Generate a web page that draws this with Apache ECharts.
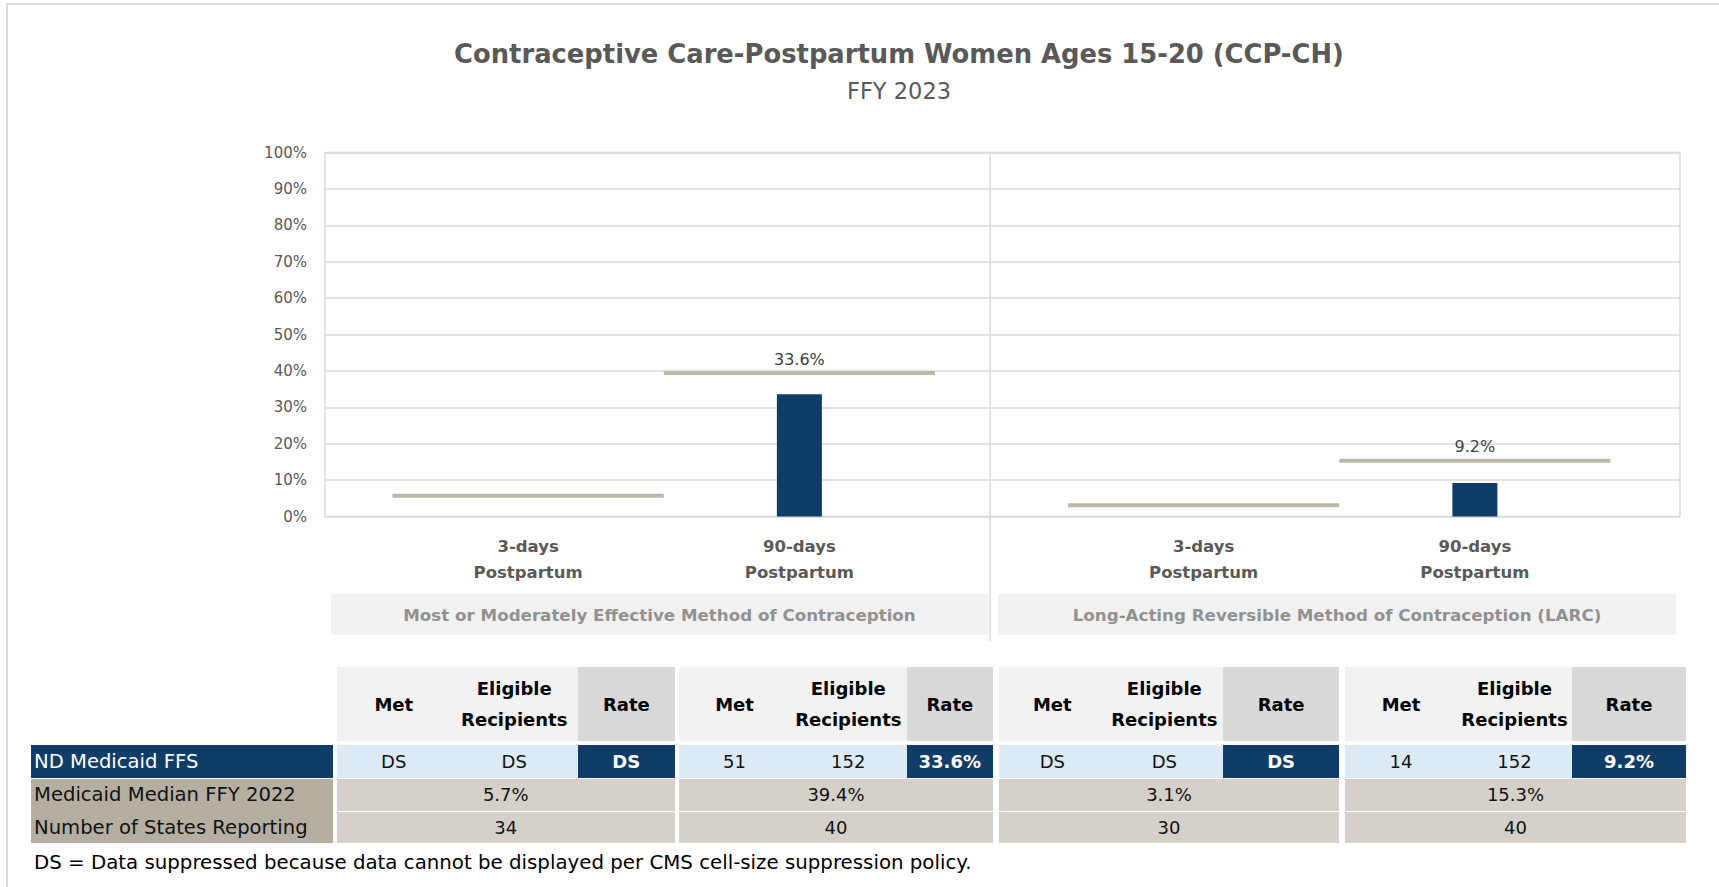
<!DOCTYPE html>
<html>
<head>
<meta charset="utf-8">
<title>CCP-CH</title>
<script src="https://cdn.jsdelivr.net/npm/echarts@6/dist/echarts.min.js"></script>
<style>
  html, body { margin: 0; padding: 0; background: #fff; }
  body { font-family: "DejaVu Sans", "Open Sans", sans-serif; }
  #wrap { position: relative; width: 1719px; height: 887px; overflow: hidden; }
  #frame { position: absolute; left: 6px; top: 3px; width: 1730px; height: 900px;
    border-top: 2px solid #dddcd8; border-left: 2px solid #dddcd8; }
  #chart { position: absolute; left: 0; top: 0; width: 1719px; height: 887px; }
  .grp { position: absolute; top: 594px; height: 41px; background: #f2f2f2; color: #919191;
    font-size: 16.7px; font-weight: 700; display: flex; align-items: center; justify-content: center; }
  .cell { position: absolute; box-sizing: border-box; display: flex; align-items: center;
    justify-content: center; font-size: 18px; color: #111; text-align: center; }
  .hdr { background: #f2f2f2; font-weight: 700; font-size: 18px; line-height: 31px; color: #000; }
  .hdr.rate { background: #d9d9d9; }
  .nd { background: #ddebf7; }
  .nd.rate { background: #0f3d67; color: #fff; font-weight: 700; }
  .tan { background: #d5d0c9; }
  .lbl { justify-content: flex-start; padding-left: 3px; font-size: 19.6px; white-space: nowrap; }
  .lbl.navy { background: #0f3d67; color: #fff; }
  .lbl.dark { background: #b5afa2; }
  #note { position: absolute; left: 34px; top: 851px; font-size: 19.8px; color: #000; white-space: nowrap; }
</style>
</head>
<body>
<div id="wrap">
  <div id="frame"></div>
  <div id="chart"></div>
  <div id="boxes"></div>
  <div id="table"></div>
  <div id="note">DS = Data suppressed because data cannot be displayed per CMS cell-size suppression policy.</div>
</div>
<script>
// chart data
const titleText = "Contraceptive Care-Postpartum Women Ages 15-20 (CCP-CH)";
const subtitleText = "FFY 2023";
const categories = ["3-days\nPostpartum", "90-days\nPostpartum"];
const groupNames = [
  "Most or Moderately Effective Method of Contraception",
  "Long-Acting Reversible Method of Contraception (LARC)"
];
// one entry per column: [group1 3-days, group1 90-days, group2 3-days, group2 90-days]
const ndRates = [null, 33.6, null, 9.2];
const medians = [5.7, 39.4, 3.1, 15.3];
const metValues = ["DS", "51", "DS", "14"];
const eligibleValues = ["DS", "152", "DS", "152"];
const rateLabels = ["DS", "33.6%", "DS", "9.2%"];
const medianLabels = ["5.7%", "39.4%", "3.1%", "15.3%"];
const statesReporting = ["34", "40", "30", "40"];
const headerLabels = ["Met", "Eligible\nRecipients", "Rate"];
const rowLabels = ["ND Medicaid FFS", "Medicaid Median FFY 2022", "Number of States Reporting"];

const BAR_COLOR = "#0f3d67";
const MEDIAN_COLOR = "#bdb7a7";
const TEXT_GRAY = "#595959";
const FONT = '"DejaVu Sans", "Open Sans", sans-serif';

const chart = echarts.init(document.getElementById("chart"), null, { renderer: "svg" });

function medianRenderer(rates) {
  return function (params, api) {
    const idx = api.value(0);
    const p = api.coord([idx, api.value(1)]);
    const band = api.size([1, 0])[0];
    const children = [{
      type: "rect",
      shape: { x: p[0] - band / 2, y: p[1] - 2, width: band, height: 4 },
      style: { fill: MEDIAN_COLOR }
    }];
    const r = rates[idx];
    if (r != null) {
      children.push({
        type: "text",
        style: {
          text: r.toFixed(1) + "%", x: p[0], y: p[1] - 14,
          align: "center", verticalAlign: "middle",
          fill: "#404040", font: "16px " + FONT
        }
      });
    }
    return { type: "group", children: children };
  };
}

const panelGrids = [
  { left: 392.5, width: 542.5, top: 152.5, height: 364 },
  { left: 1068, width: 542.5, top: 152.5, height: 364 }
];

const option = {
  animation: false,
  textStyle: { fontFamily: FONT },
  graphic: [
    { type: "text", style: { text: titleText, x: 899, y: 54, align: "center", verticalAlign: "middle",
        fill: TEXT_GRAY, font: "bold 25.8px " + FONT } },
    { type: "text", style: { text: subtitleText, x: 899, y: 91, align: "center", verticalAlign: "middle",
        fill: TEXT_GRAY, font: "22.5px " + FONT } },
    { type: "line", shape: { x1: 990, y1: 152.5, x2: 990, y2: 641 },
      style: { stroke: "#d9d9d9", lineWidth: 1.5 } }
  ],
  grid: [
    { left: 325, width: 1355, top: 152.5, height: 364, show: true, borderColor: "#d9d9d9", borderWidth: 1.5 },
    panelGrids[0],
    panelGrids[1]
  ],
  xAxis: [
    { gridIndex: 0, type: "value", show: false, min: 0, max: 1 },
    { gridIndex: 1, type: "category", data: categories,
      axisLine: { show: false }, axisTick: { show: false },
      axisLabel: { margin: 17, color: TEXT_GRAY, fontSize: 16.5, fontWeight: "bold", lineHeight: 26 } },
    { gridIndex: 2, type: "category", data: categories,
      axisLine: { show: false }, axisTick: { show: false },
      axisLabel: { margin: 17, color: TEXT_GRAY, fontSize: 16.5, fontWeight: "bold", lineHeight: 26 } }
  ],
  yAxis: [
    { gridIndex: 0, type: "value", min: 0, max: 100, interval: 10,
      axisLine: { show: false }, axisTick: { show: false },
      splitLine: { lineStyle: { color: "#d9d9d9", width: 1.5 } },
      axisLabel: { formatter: "{value}%", color: TEXT_GRAY, fontSize: 15, margin: 18 } },
    { gridIndex: 1, type: "value", min: 0, max: 100, show: false },
    { gridIndex: 2, type: "value", min: 0, max: 100, show: false }
  ],
  series: [
    { type: "bar", xAxisIndex: 1, yAxisIndex: 1, data: ndRates.slice(0, 2), barWidth: 45,
      itemStyle: { color: BAR_COLOR } },
    { type: "bar", xAxisIndex: 2, yAxisIndex: 2, data: ndRates.slice(2, 4), barWidth: 45,
      itemStyle: { color: BAR_COLOR } },
    { type: "custom", xAxisIndex: 1, yAxisIndex: 1, renderItem: medianRenderer(ndRates.slice(0, 2)),
      data: medians.slice(0, 2).map((v, i) => [i, v]), z: 3 },
    { type: "custom", xAxisIndex: 2, yAxisIndex: 2, renderItem: medianRenderer(ndRates.slice(2, 4)),
      data: medians.slice(2, 4).map((v, i) => [i, v]), z: 3 }
  ]
};
chart.setOption(option);

// group label boxes under the chart
const boxPos = [{ left: 331, width: 657 }, { left: 998, width: 678 }];
const boxes = document.getElementById("boxes");
groupNames.forEach((name, i) => {
  const d = document.createElement("div");
  d.className = "grp";
  d.style.left = boxPos[i].left + "px";
  d.style.width = boxPos[i].width + "px";
  d.textContent = name;
  boxes.appendChild(d);
});

// data table
const rows = [
  { top: 667, height: 74 },
  { top: 745, height: 32.5 },
  { top: 779.3, height: 31.4 },
  { top: 812.3, height: 31 }
];
const groupCols = [
  { x: 337, w: [113.5, 127.5, 96.6] },
  { x: 679, w: [111, 116.6, 86.4] },
  { x: 998.6, w: [107.4, 116.7, 116.8] },
  { x: 1345, w: [112, 115, 114] }
];
const table = document.getElementById("table");
function addCell(cls, x, y, w, h, text) {
  const c = document.createElement("div");
  c.className = "cell " + cls;
  c.style.left = x + "px";
  c.style.top = y + "px";
  c.style.width = w + "px";
  c.style.height = h + "px";
  c.innerHTML = String(text).replace("\n", "<br>");
  table.appendChild(c);
}
// row label column
addCell("lbl navy", 31, rows[1].top, 302, rows[1].height, rowLabels[0]);
addCell("lbl dark", 31, rows[2].top, 302, rows[3].top + rows[3].height - rows[2].top, "");
addCell("lbl", 31, rows[2].top, 302, rows[2].height, rowLabels[1]);
addCell("lbl", 31, rows[3].top, 302, rows[3].height, rowLabels[2]);
groupCols.forEach((g, gi) => {
  let x = g.x;
  const ndRow = [metValues[gi], eligibleValues[gi], rateLabels[gi]];
  g.w.forEach((w, ci) => {
    const isRate = ci === 2 ? " rate" : "";
    addCell("hdr" + isRate, x, rows[0].top, w, rows[0].height, headerLabels[ci]);
    addCell("nd" + isRate, x, rows[1].top, w, rows[1].height, ndRow[ci]);
    x += w;
  });
  const total = g.w.reduce((a, b) => a + b, 0);
  addCell("tan", g.x, rows[2].top, total, rows[2].height, medianLabels[gi]);
  addCell("tan", g.x, rows[3].top, total, rows[3].height, statesReporting[gi]);
});

window.addEventListener("resize", () => chart.resize());
</script>
</body>
</html>
